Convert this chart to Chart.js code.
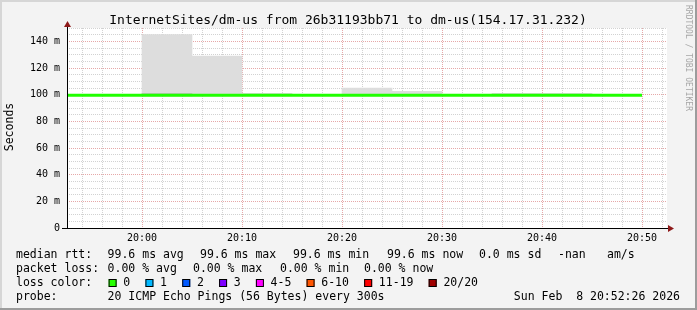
<!DOCTYPE html>
<html>
<head>
<meta charset="utf-8">
<script src="https://cdn.jsdelivr.net/npm/chart.js@4.4.1/dist/chart.umd.min.js"></script>
<style>
  html, body { margin: 0; padding: 0; background: #f3f3f3; }
  #wrap { width: 697px; height: 310px; }
</style>
</head>
<body>
<div id="wrap"><canvas id="smokeChart" width="697" height="310"></canvas></div>
<script>
// 5 minute rrd slots with smoke (ping spread) in ms
const slotStarts = ['20:00', '20:05', '20:10', '20:15', '20:20', '20:25', '20:30', '20:35', '20:40', '20:45'];
const smokeMin   = [99, 99, 99, null, 99, 99, null, 99, 99, null];
const smokeMax   = [145, 129, 101, null, 105, 102.5, null, 101, 101, null];
const smokeDense = [101, null, null, null, null, null, null, null, null, null];

// median rtt line
const medianSlots = ['19:50', '19:55', '20:00', '20:05', '20:10', '20:15', '20:20', '20:25', '20:30', '20:35', '20:40', '20:45'];
const medianRtt   = [99.6, 99.6, 99.6, 99.6, 99.6, 99.6, 99.6, 99.6, 99.6, 99.6, 99.6, 99.6];
const medianEnd   = '20:50';

const timeLabels = ['20:00', '20:10', '20:20', '20:30', '20:40', '20:50'];
const yLabelValues = [0, 20, 40, 60, 80, 100, 120, 140];

const rttStatValues = [99.6, 99.6, 99.6, 99.6];
const rttStatNames  = ['avg', 'max', 'min', 'now'];
const rttSd = 0.0;
const lossStatValues = [0.00, 0.00, 0.00, 0.00];
const lossStatNames  = ['avg', 'max', 'min', 'now'];

const lossLabels = ['0', '1', '2', '3', '4-5', '6-10', '11-19', '20/20'];
const lossColors = ['#26ff00', '#00b8ff', '#0059ff', '#7e00ff', '#ff00ff', '#ff5500', '#ff0000', '#a10000'];

const titleText = 'InternetSites/dm-us from 26b31193bb71 to dm-us(154.17.31.232)';
const probeText = '20 ICMP Echo Pings (56 Bytes) every 300s';
const dateText  = 'Sun Feb  8 20:52:26 2026';

// minutes relative to 20:00
function toMin(hhmm) {
    const p = hhmm.split(':');
    return (+p[0]) * 60 + (+p[1]) - 20 * 60;
}
function fmtMin(m) {
    const t = 20 * 60 + m;
    return String(Math.floor(t / 60)).padStart(2, '0') + ':' + String(t % 60).padStart(2, '0');
}

const SLOT = 5;
const mono = '"DejaVu Sans Mono", monospace';

function barData(lo, hi) {
    const out = [];
    slotStarts.forEach((s, i) => {
        if (hi[i] == null || lo[i] == null) return;
        out.push({ x: toMin(s) + SLOT / 2, y: [lo[i], hi[i]] });
    });
    return out;
}

const medianData = medianSlots.map((s, i) => ({ x: toMin(s), y: medianRtt[i] }));
medianData.push({ x: toMin(medianEnd), y: medianRtt[medianRtt.length - 1] });

const majorTimes = timeLabels.map(toMin);
// graph window 19:52:30 .. 20:52:30
const xMin = toMin('19:52') + 0.5;
const xMax = toMin('20:52') + 0.5;

// background, frame, title and legend
const rrdFrame = {
    id: 'rrdFrame',
    beforeDraw(chart) {
        const c = chart.ctx, a = chart.chartArea;
        c.save();
        c.fillStyle = '#f3f3f3';
        c.fillRect(0, 0, 697, 310);
        c.fillStyle = '#d6d6d6';
        c.fillRect(0, 0, 697, 2);
        c.fillRect(0, 0, 2, 310);
        c.fillStyle = '#9c9c9c';
        c.fillRect(0, 308, 697, 2);
        c.fillRect(695, 0, 2, 310);
        c.fillStyle = '#ffffff';
        c.fillRect(a.left, a.top, a.right - a.left, a.bottom - a.top);
        c.restore();
    },
    afterDraw(chart) {
        const c = chart.ctx, a = chart.chartArea;
        c.save();
        // axes
        c.strokeStyle = '#000';
        c.lineWidth = 1;
        c.beginPath();
        c.moveTo(62, a.bottom + 0.5);
        c.lineTo(670, a.bottom + 0.5);
        c.moveTo(a.left + 0.5, a.bottom + 0.5);
        c.lineTo(a.left + 0.5, 25);
        c.stroke();
        c.fillStyle = '#8e1a1a';
        c.beginPath();
        c.moveTo(a.left - 3, 27); c.lineTo(a.left + 4, 27); c.lineTo(a.left + 0.5, 21);
        c.closePath(); c.fill();
        c.beginPath();
        c.moveTo(668, a.bottom - 3); c.lineTo(668, a.bottom + 4); c.lineTo(674, a.bottom + 0.5);
        c.closePath(); c.fill();

        // title
        c.fillStyle = '#000';
        c.font = '13px ' + mono;
        c.textAlign = 'center';
        c.textBaseline = 'alphabetic';
        c.fillText(titleText, 348, 24);

        // y axis title
        c.save();
        c.translate(10.5, 127);
        c.rotate(-Math.PI / 2);
        c.font = '11.5px ' + mono;
        c.textBaseline = 'middle';
        c.fillText('Seconds', 0, 0);
        c.restore();

        // watermark
        c.save();
        c.translate(688.5, 5);
        c.rotate(Math.PI / 2);
        c.font = '8px ' + mono;
        c.fillStyle = '#a6a6a6';
        c.textAlign = 'left';
        c.textBaseline = 'middle';
        c.fillText('RRDTOOL / TOBI OETIKER', 0, 0);
        c.restore();

        // legend
        c.font = '11.5px ' + mono;
        c.textAlign = 'left';
        c.textBaseline = 'middle';
        c.fillStyle = '#000';
        const left = 16, col = 107.6;
        const rows = [255, 269, 283, 297];

        c.fillText('median rtt:', left, rows[0]);
        const rttX = [col, 200, 293, 387];
        rttStatValues.forEach((v, i) => c.fillText(v.toFixed(1) + ' ms ' + rttStatNames[i], rttX[i], rows[0]));
        c.fillText(rttSd.toFixed(1) + ' ms sd', 479, rows[0]);
        c.fillText('-nan', 558, rows[0]);
        c.fillText('am/s', 607, rows[0]);

        c.fillText('packet loss:', left, rows[1]);
        const lossX = [col, 193, 280, 364];
        lossStatValues.forEach((v, i) => c.fillText(v.toFixed(2) + ' % ' + lossStatNames[i], lossX[i], rows[1]));

        c.fillText('loss color:', left, rows[2]);
        let x = col + 1;
        lossLabels.forEach((lab, i) => {
            c.fillStyle = lossColors[i];
            c.fillRect(x, rows[2] - 4, 8, 8);
            c.strokeStyle = '#000';
            c.strokeRect(x + 0.5, rows[2] - 3.5, 7, 7);
            c.fillStyle = '#000';
            c.fillText(lab, x + 14.7, rows[2]);
            x = x + 14.7 + c.measureText(lab).width + 15.2;
        });

        c.fillText('probe:', left, rows[3]);
        c.fillText(probeText, col, rows[3]);
        c.textAlign = 'right';
        c.fillText(dateText, 680, rows[3]);
        c.restore();
    }
};

const ctx = document.getElementById('smokeChart');

new Chart(ctx, {
    type: 'bar',
    data: {
        datasets: [
            {
                type: 'line',
                label: 'median rtt',
                data: medianData,
                xAxisID: 'x',
                yAxisID: 'y',
                stepped: 'after',
                borderColor: '#20ff00',
                borderWidth: 3,
                pointRadius: 0,
                order: 0
            },
            {
                label: 'dense smoke',
                data: barData(smokeMin, smokeDense),
                xAxisID: 'x',
                yAxisID: 'y',
                backgroundColor: '#c2c2c2',
                grouped: false,
                barPercentage: 1,
                categoryPercentage: 1,
                borderWidth: 0,
                order: 1
            },
            {
                label: 'smoke',
                data: barData(smokeMin, smokeMax),
                xAxisID: 'x',
                yAxisID: 'y',
                backgroundColor: '#dddddd',
                grouped: false,
                barPercentage: 1,
                categoryPercentage: 1,
                borderWidth: 0,
                order: 2
            }
        ]
    },
    options: {
        responsive: false,
        animation: false,
        devicePixelRatio: 1,
        layout: { padding: { top: 28, right: 30, left: 0, bottom: 0 } },
        plugins: {
            legend: { display: false },
            tooltip: { enabled: false }
        },
        scales: {
            x: {
                type: 'linear',
                position: 'bottom',
                min: xMin,
                max: xMax,
                offset: false,
                z: 2,
                afterBuildTicks(scale) {
                    scale.ticks = majorTimes.map(v => ({ value: v }));
                },
                afterFit(scale) { scale.height = 82; },
                ticks: {
                    autoSkip: false,
                    maxRotation: 0,
                    minRotation: 0,
                    padding: 4,
                    color: '#000',
                    font: { family: mono, size: 10 },
                    callback: (v) => fmtMin(v)
                },
                grid: {
                    drawTicks: false,
                    offset: false,
                    lineWidth: 1,
                    color: '#e6a8a8'
                },
                border: { display: false, dash: [1, 1] }
            },
            // minor grid every 2 minutes
            xMinor: {
                type: 'linear',
                position: 'bottom',
                min: xMin,
                max: xMax,
                offset: false,
                z: 1,
                afterBuildTicks(scale) {
                    const t = [];
                    for (let m = toMin('19:54'); m <= toMin('20:52'); m += 2) t.push({ value: m });
                    scale.ticks = t;
                },
                afterFit(scale) { scale.height = 0; },
                ticks: { display: false },
                grid: {
                    drawTicks: false,
                    offset: false,
                    lineWidth: 1,
                    color: (c) => majorTimes.includes(c.tick && c.tick.value) ? 'rgba(0,0,0,0)' : '#d2d2d2'
                },
                border: { display: false, dash: [1, 1] }
            },
            y: {
                min: 0,
                max: 150,
                z: 1,
                afterBuildTicks(scale) {
                    const t = [];
                    for (let v = 0; v <= 150; v += 5) t.push({ value: v });
                    scale.ticks = t;
                },
                afterFit(scale) { scale.width = 67; },
                ticks: {
                    autoSkip: false,
                    padding: 7,
                    color: '#000',
                    font: { family: mono, size: 10 },
                    callback: (v) => yLabelValues.includes(v) ? (v === 0 ? '0' : v + ' m') : ''
                },
                grid: {
                    drawTicks: false,
                    lineWidth: 1,
                    color: (c) => {
                        const v = c.tick && c.tick.value;
                        if (v === 0) return 'rgba(0,0,0,0)';
                        return yLabelValues.includes(v) ? '#e6a8a8' : '#d2d2d2';
                    }
                },
                border: { display: false, dash: [1, 1] }
            }
        }
    },
    plugins: [rrdFrame]
});
</script>
</body>
</html>
